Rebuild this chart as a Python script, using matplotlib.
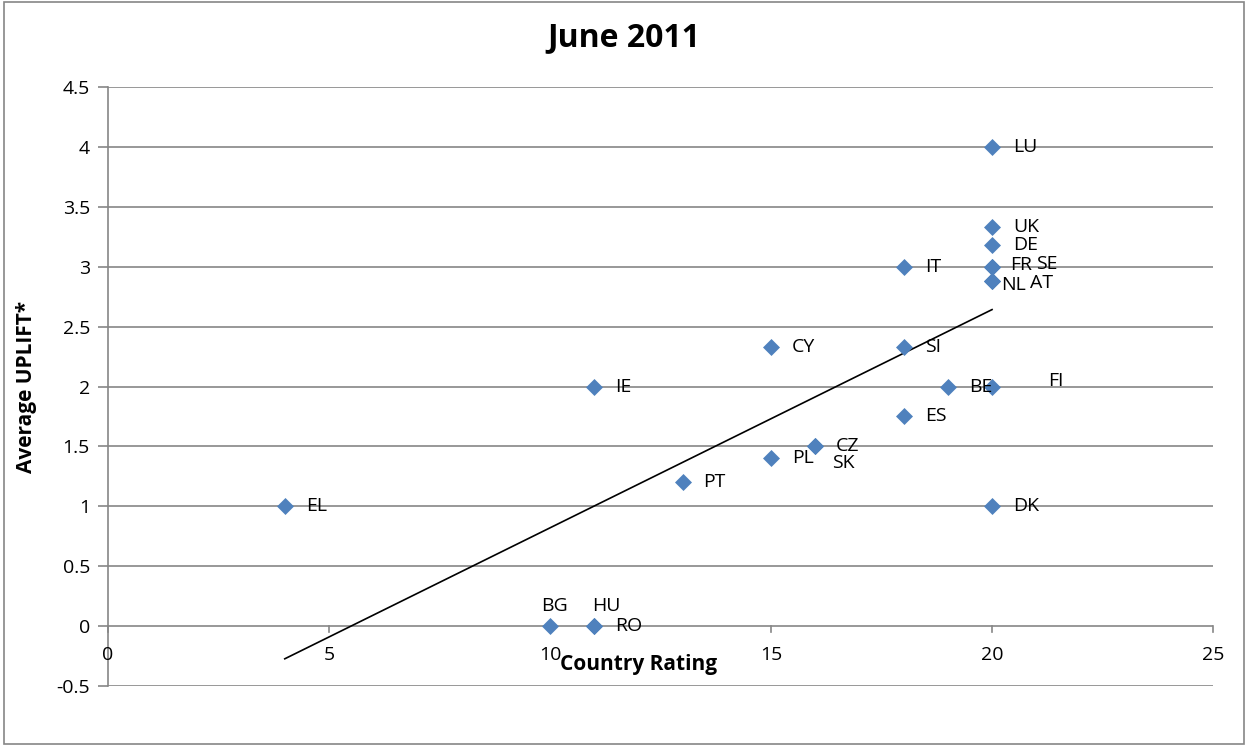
import numpy as np
import matplotlib.pyplot as plt

countries = ['LU', 'UK', 'DE', 'FR', 'SE', 'NL', 'AT', 'IT', 'CY', 'SI', 'IE', 'BE',
             'FI', 'ES', 'CZ', 'SK', 'PL', 'PT', 'EL', 'DK', 'BG', 'HU', 'RO']
rating = [20, 20, 20, 20, 20, 20, 20, 18, 15, 18, 11, 19,
          20, 18, 16, 16, 15, 13, 4, 20, 10, 11, 11]
uplift = [4.0, 3.33, 3.18, 3.0, 3.0, 2.88, 2.88, 3.0, 2.33, 2.33, 2.0, 2.0,
          2.0, 1.75, 1.5, 1.5, 1.4, 1.2, 1.0, 1.0, 0.0, 0.0, 0.0]
x_ticks = [0, 5, 10, 15, 20, 25]
y_ticks = [-0.5, 0, 0.5, 1, 1.5, 2, 2.5, 3, 3.5, 4, 4.5]

# label offsets in pixels (hand-placed like the original)
offsets = {'FR': (18, 2), 'SE': (44, 3), 'NL': (9, -4), 'AT': (38, -2),
           'FI': (56, 6), 'SK': (17, -17), 'BG': (5, 20), 'HU': (12, 20)}

plt.rcParams['font.family'] = ['Open Sans', 'DejaVu Sans']

fig = plt.figure(figsize=(12.48, 7.46), dpi=100)
ax = fig.add_axes([0.0865, 0.0804, 0.8855, 0.803])

for y in y_ticks:
    ax.axhline(y, color='#868686', lw=1.2, zorder=1)

ax.scatter(rating, uplift, marker='D', s=75, color='#4F81BD', zorder=3, linewidths=0)

for name, x, y in zip(countries, rating, uplift):
    dx, dy = offsets.get(name, (21, 0))
    ax.annotate(name, (x, y), xytext=(dx, dy), textcoords='offset pixels',
                fontsize=14, ha='left' if name not in ('BG', 'HU') else 'center',
                va='center', zorder=4)

# linear trendline over the data range
k, b = np.polyfit(rating, uplift, 1)
xs = np.array([min(rating), max(rating)])
ax.plot(xs, k * xs + b, color='black', lw=1.2, zorder=2)

ax.set_xlim(0, 25)
ax.set_ylim(-0.5, 4.5)
ax.set_yticks(y_ticks)
ax.set_yticklabels([f'{v:g}' for v in y_ticks])
ax.set_xticks([])

for s in ['top', 'right', 'bottom']:
    ax.spines[s].set_visible(False)
ax.spines['left'].set_color('#868686')
ax.spines['left'].set_linewidth(1.2)

ax.tick_params(axis='y', length=7, color='#868686', width=1.2, labelsize=14, pad=6)

# x axis sits on the zero line, labels just below it
for x in x_ticks:
    ax.text(x, -0.24, str(x), ha='center', va='center', fontsize=14)
    ax.plot([x, x], [0, -0.05], color='#868686', lw=1.2, zorder=1, clip_on=False)

ax.text(12, -0.32, 'Country Rating', ha='center', va='center', fontsize=15, fontweight='bold')
ax.set_ylabel('Average UPLIFT*', fontsize=15, fontweight='bold', labelpad=14)
fig.text(0.5, 1 - 38 / 746, 'June 2011', ha='center', va='center', fontsize=23, fontweight='bold')

fig.patches.append(plt.Rectangle((0.003, 0.003), 0.994, 0.994, transform=fig.transFigure,
                                 fill=False, edgecolor='#868686', lw=1.2))

fig.savefig('out.png', dpi=100)
